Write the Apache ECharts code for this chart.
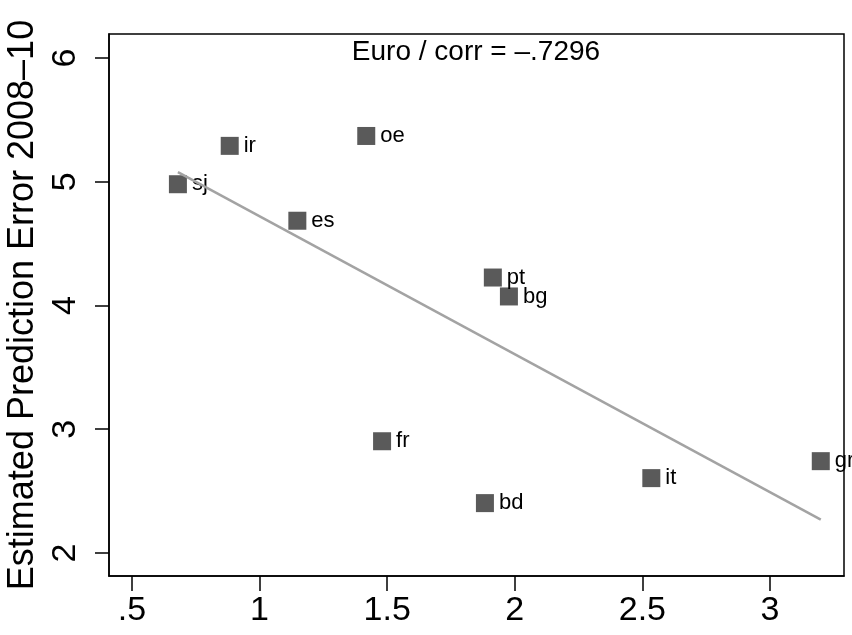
<!DOCTYPE html>
<html>
<head>
<meta charset="utf-8">
<script src="https://cdn.jsdelivr.net/npm/echarts@6/dist/echarts.min.js"></script>
<style>
  html, body { margin: 0; padding: 0; background: #fff; }
  #chart { width: 852px; height: 635px; }
</style>
</head>
<body>
<div id="chart"></div>
<script>
// Country codes and their values
const countries = ['sj', 'ir', 'oe', 'es', 'pt', 'bg', 'fr', 'bd', 'it', 'gr'];
const xValues = [0.68, 0.883, 1.418, 1.148, 1.914, 1.977, 1.48, 1.883, 2.535, 3.199];
const yValues = [4.98, 5.29, 5.37, 4.685, 4.226, 4.073, 2.903, 2.403, 2.605, 2.742];

// Axis tick values
const xTicks = [0.5, 1, 1.5, 2, 2.5, 3];
const yTicks = [2, 3, 4, 5, 6];

const titleText = 'Euro / corr = –.7296';
const yTitle = 'Estimated Prediction Error 2008–10';

// Least-squares fit line over the observed x range
function fitLine(xs, ys) {
  const n = xs.length;
  const mx = xs.reduce((a, b) => a + b, 0) / n;
  const my = ys.reduce((a, b) => a + b, 0) / n;
  let sxy = 0, sxx = 0;
  for (let i = 0; i < n; i++) {
    sxy += (xs[i] - mx) * (ys[i] - my);
    sxx += (xs[i] - mx) * (xs[i] - mx);
  }
  const b = sxy / sxx;
  const a = my - b * mx;
  const x0 = Math.min(...xs), x1 = Math.max(...xs);
  return [[x0, a + b * x0], [x1, a + b * x1]];
}

const points = countries.map((c, i) => ({ name: c, value: [xValues[i], yValues[i]] }));
const FONT = '"Liberation Sans", Arial, Helvetica, sans-serif';

function tickFmt(v) {
  const s = String(v);
  return s.startsWith('0.') ? s.slice(1) : s;
}

const chart = echarts.init(document.getElementById('chart'));
chart.setOption({
  animation: false,
  backgroundColor: '#fff',
  textStyle: { fontFamily: FONT },
  grid: {
    left: 109, right: 8, top: 34, bottom: 59,
    outerBoundsMode: 'none',
    show: true, borderColor: '#000', borderWidth: 1.5
  },
  graphic: [{
    type: 'text',
    x: 476, y: 52,
    style: {
      text: titleText, textAlign: 'center', textVerticalAlign: 'middle',
      font: '28px ' + FONT, fill: '#000'
    }
  }],
  xAxis: {
    type: 'value', min: 0.41, max: 3.29,
    axisLine: { show: true, onZero: false, lineStyle: { color: '#000', width: 1.5 } },
    axisTick: { show: true, customValues: xTicks, length: 15, lineStyle: { color: '#000', width: 1.5 } },
    axisLabel: { customValues: xTicks, formatter: tickFmt, fontSize: 34, color: '#000', margin: 18, fontFamily: FONT },
    splitLine: { show: false }
  },
  yAxis: {
    type: 'value', min: 1.814, max: 6.194,
    name: yTitle, nameLocation: 'middle', nameGap: 65,
    nameTextStyle: { fontSize: 36, color: '#000', fontFamily: FONT },
    axisLine: { show: true, onZero: false, lineStyle: { color: '#000', width: 1.5 } },
    axisTick: { show: true, customValues: yTicks, length: 14, lineStyle: { color: '#000', width: 1.5 } },
    axisLabel: { customValues: yTicks, rotate: 90, fontSize: 34, color: '#000', margin: 26, fontFamily: FONT },
    splitLine: { show: false }
  },
  series: [
    {
      type: 'scatter',
      data: points,
      symbol: 'rect',
      symbolSize: 18,
      itemStyle: { color: '#5a5a5a', opacity: 1 },
      label: {
        show: true, position: 'right', distance: 5,
        formatter: p => p.name, fontSize: 22, color: '#000', fontFamily: FONT
      }
    },
    {
      type: 'line',
      data: fitLine(xValues, yValues),
      symbol: 'none',
      lineStyle: { color: '#a3a3a3', width: 2.5 }
    }
  ]
});
</script>
</body>
</html>
